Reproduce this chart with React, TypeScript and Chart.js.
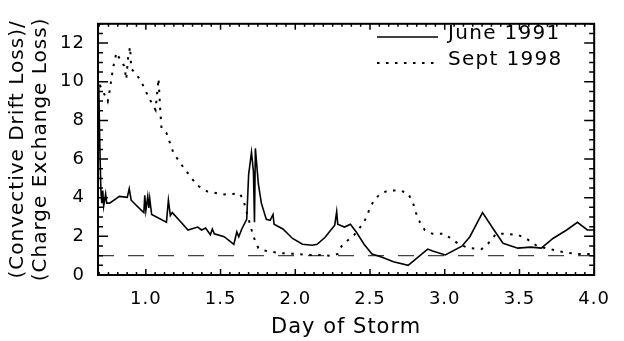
import React, { useEffect, useRef } from 'react';
import { Chart, registerables } from 'chart.js';

Chart.register(...registerables);

// ---- data ----
const xTickValues = [1.0, 1.5, 2.0, 2.5, 3.0, 3.5, 4.0];
const yTickValues = [0, 2, 4, 6, 8, 10, 12];
const xMinorStep = 0.0625;
const yMinorStep = 0.5;
const xRange = [0.68, 4.0];
const yRange = [0, 13];
const referenceLevel = 1;
const seriesLabels = ['June 1991', 'Sept 1998'];

const june1991X = [0.685, 0.692, 0.699, 0.705, 0.712, 0.718, 0.731, 0.738, 0.758, 0.823, 0.876, 0.889, 0.902, 0.967, 0.987, 0.993, 1.0, 1.013, 1.02, 1.026, 1.039, 1.138, 1.151, 1.164, 1.177, 1.236, 1.282, 1.347, 1.373, 1.4, 1.432, 1.445, 1.458, 1.524, 1.589, 1.609, 1.622, 1.642, 1.675, 1.688, 1.707, 1.72, 1.727, 1.733, 1.753, 1.773, 1.806, 1.832, 1.851, 1.858, 1.917, 1.982, 2.048, 2.113, 2.146, 2.198, 2.264, 2.277, 2.284, 2.329, 2.369, 2.408, 2.46, 2.513, 2.572, 2.657, 2.755, 2.886, 2.919, 3.004, 3.115, 3.168, 3.253, 3.325, 3.39, 3.489, 3.574, 3.646, 3.724, 3.816, 3.888, 3.954, 4.0];
const june1991Y = [9.9, 6.7, 4.47, 3.72, 4.37, 3.57, 4.2, 3.72, 3.72, 4.07, 4.02, 4.47, 3.87, 3.37, 3.23, 4.12, 3.33, 4.07, 3.47, 3.97, 3.13, 2.73, 3.87, 3.08, 3.23, 2.73, 2.33, 2.48, 2.33, 2.43, 2.08, 2.38, 2.13, 1.98, 1.59, 2.23, 1.98, 2.38, 2.88, 5.21, 6.35, 5.36, 2.73, 6.55, 4.71, 3.72, 2.88, 2.83, 3.13, 2.63, 2.38, 1.89, 1.59, 1.54, 1.59, 1.94, 2.58, 3.28, 2.63, 2.48, 2.63, 2.23, 1.59, 1.09, 0.94, 0.69, 0.5, 1.34, 1.24, 1.04, 1.49, 1.98, 3.23, 2.38, 1.64, 1.39, 1.44, 1.39, 1.89, 2.33, 2.73, 2.33, 2.33];

const sept1998X = [0.692, 0.718, 0.745, 0.758, 0.777, 0.79, 0.804, 0.836, 0.856, 0.869, 0.882, 0.895, 0.902, 0.935, 0.974, 1.02, 1.065, 1.085, 1.092, 1.098, 1.105, 1.138, 1.183, 1.229, 1.262, 1.301, 1.347, 1.413, 1.524, 1.629, 1.655, 1.688, 1.72, 1.753, 1.806, 1.891, 2.002, 2.1, 2.166, 2.244, 2.284, 2.31, 2.343, 2.395, 2.46, 2.493, 2.526, 2.572, 2.624, 2.703, 2.755, 2.788, 2.807, 2.834, 2.866, 2.919, 2.997, 3.05, 3.096, 3.161, 3.246, 3.292, 3.344, 3.41, 3.489, 3.554, 3.62, 3.705, 3.79, 3.882, 4.0];
const sept1998Y = [9.83, 9.43, 8.98, 9.53, 10.52, 11.07, 11.51, 11.02, 10.82, 10.12, 11.32, 11.81, 10.67, 10.42, 9.93, 9.18, 8.54, 10.17, 9.18, 8.34, 7.59, 7.35, 6.35, 5.81, 5.46, 5.06, 4.62, 4.32, 4.17, 4.22, 3.82, 2.88, 1.99, 1.39, 1.24, 1.14, 1.09, 1.04, 1.04, 0.99, 1.09, 1.49, 1.74, 2.08, 2.73, 3.33, 3.87, 4.22, 4.37, 4.37, 4.22, 3.72, 3.23, 2.73, 2.33, 2.13, 2.13, 1.84, 1.59, 1.39, 1.34, 1.64, 2.13, 2.13, 2.08, 1.84, 1.49, 1.34, 1.19, 1.09, 1.09];

const FONT = '"DejaVu Sans", sans-serif';

const toPoints = (xs: number[], ys: number[]) => xs.map((x, i) => ({ x, y: ys[i] }));

// wider lettering, like the original plotting font
const letterSpacing = {
  id: 'letterSpacing',
  beforeLayout(chart: any) {
    (chart.ctx as any).letterSpacing = '1px';
  },
  beforeDraw(chart: any) {
    (chart.ctx as any).letterSpacing = '1px';
  },
};

const frameTicks = {
  id: 'frameTicks',
  afterDatasetsDraw(chart: any) {
    const { ctx, chartArea, scales } = chart;
    const { left, right, top, bottom } = chartArea;
    const x = scales.x;
    const y = scales.y;
    ctx.save();
    ctx.strokeStyle = '#000';
    ctx.lineWidth = 1.5;
    ctx.beginPath();
    const nx = Math.round(xRange[1] / xMinorStep);
    for (let i = 0; i <= nx; i++) {
      const v = i * xMinorStep;
      if (v < xRange[0] || v > xRange[1]) continue;
      const px = x.getPixelForValue(v);
      const major = Math.abs(v * 2 - Math.round(v * 2)) < 1e-6;
      const len = major ? 6 : 3;
      ctx.moveTo(px, bottom);
      ctx.lineTo(px, bottom - len);
      ctx.moveTo(px, top);
      ctx.lineTo(px, top + len);
    }
    const ny = Math.round(yRange[1] / yMinorStep);
    for (let i = 0; i <= ny; i++) {
      const v = i * yMinorStep;
      const py = y.getPixelForValue(v);
      const major = Math.abs(v / 2 - Math.round(v / 2)) < 1e-6;
      const len = major ? 10 : 5;
      ctx.moveTo(left, py);
      ctx.lineTo(left + len, py);
      ctx.moveTo(right, py);
      ctx.lineTo(right - len, py);
    }
    ctx.stroke();
    ctx.lineWidth = 2;
    ctx.strokeRect(left, top, right - left, bottom - top);
    ctx.restore();
  },
};

const insideLegend = {
  id: 'insideLegend',
  afterDraw(chart: any) {
    const { ctx } = chart;
    const ds = chart.data.datasets;
    const rows = [
      { d: ds[0], lineY: 37, textY: 39 },
      { d: ds[1], lineY: 63, textY: 65 },
    ];
    ctx.save();
    rows.forEach((r) => {
      ctx.beginPath();
      ctx.strokeStyle = r.d.borderColor;
      ctx.lineWidth = r.d.borderWidth;
      ctx.setLineDash(r.d.borderDash || []);
      ctx.moveTo(377, r.lineY);
      ctx.lineTo(438, r.lineY);
      ctx.stroke();
      ctx.setLineDash([]);
      ctx.fillStyle = '#000';
      ctx.font = `20px ${FONT}`;
      (ctx as any).letterSpacing = '1.3px';
      ctx.textBaseline = 'alphabetic';
      ctx.textAlign = 'left';
      ctx.fillText(r.d.label, 448, r.textY);
    });
    ctx.restore();
  },
};

export default function App() {
  const ref = useRef<HTMLCanvasElement | null>(null);

  useEffect(() => {
    const canvas = ref.current;
    if (!canvas) return;
    const chart = new Chart(canvas, {
      type: 'line',
      data: {
        datasets: [
          {
            label: seriesLabels[0],
            data: toPoints(june1991X, june1991Y),
            borderColor: '#000',
            borderWidth: 1.6,
            pointRadius: 0,
            tension: 0,
            fill: false,
          },
          {
            label: seriesLabels[1],
            data: toPoints(sept1998X, sept1998Y),
            borderColor: '#000',
            borderWidth: 2,
            borderDash: [2.5, 6.5],
            pointRadius: 0,
            tension: 0,
            fill: false,
          },
          {
            label: 'reference',
            data: toPoints(xRange, [referenceLevel, referenceLevel]),
            borderColor: '#444',
            borderWidth: 1.2,
            borderDash: [16, 14],
            pointRadius: 0,
            fill: false,
          },
        ],
      },
      options: {
        responsive: false,
        animation: false,
        events: [],
        layout: { padding: { left: 0, top: 13, right: 19, bottom: 0 } },
        plugins: {
          legend: { display: false },
          tooltip: { enabled: false },
        },
        scales: {
          x: {
            type: 'linear',
            min: xRange[0],
            max: xRange[1],
            grid: { display: false, drawTicks: false },
            border: { display: false },
            afterBuildTicks: (s: any) => {
              s.ticks = xTickValues.map((value) => ({ value }));
            },
            afterFit: (s: any) => {
              s.height = 66;
            },
            ticks: {
              padding: 14,
              color: '#000',
              maxRotation: 0,
              autoSkip: false,
              font: { family: FONT, size: 18 },
              callback: (v: any) => Number(v).toFixed(1),
            },
            title: {
              display: true,
              text: 'Day of Storm',
              color: '#000',
              font: { family: FONT, size: 21, lineHeight: 1.2 },
              padding: { top: 0, bottom: 1 },
            },
          },
          y: {
            type: 'linear',
            min: yRange[0],
            max: yRange[1],
            grid: { display: false, drawTicks: false },
            border: { display: false },
            afterBuildTicks: (s: any) => {
              s.ticks = yTickValues.map((value) => ({ value }));
            },
            afterFit: (s: any) => {
              s.width = 98;
            },
            ticks: {
              padding: 13,
              color: '#000',
              autoSkip: false,
              font: { family: FONT, size: 18 },
              callback: (v: any) => String(v),
            },
            title: {
              display: true,
              text: ['(Convective Drift Loss)/', '(Charge Exchange Loss)'],
              color: '#000',
              font: { family: FONT, size: 20, lineHeight: 1.15 },
              padding: { top: 6, bottom: 0 },
            },
          },
        },
      },
      plugins: [letterSpacing, frameTicks, insideLegend],
    });
    return () => chart.destroy();
  }, []);

  return (
    <div style={{ position: 'fixed', left: 0, top: 0, width: 624, height: 341, background: '#fff' }}>
      <canvas ref={ref} width={624} height={341} style={{ display: 'block' }} />
    </div>
  );
}
